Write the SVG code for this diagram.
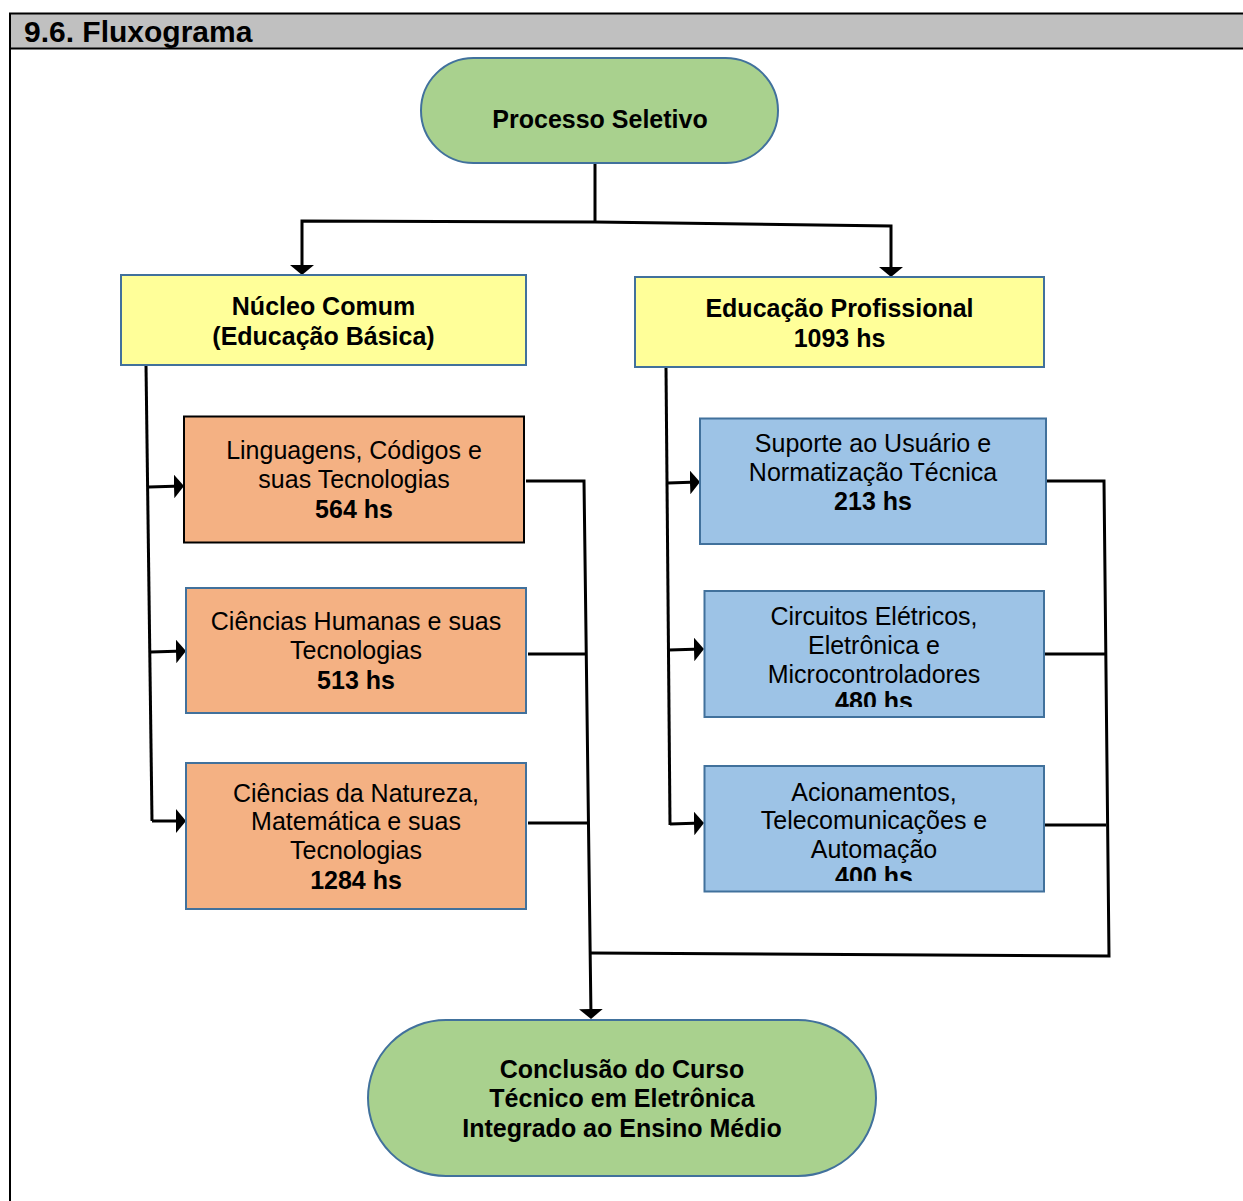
<svg xmlns="http://www.w3.org/2000/svg" width="1243" height="1201" viewBox="0 0 1243 1201">
<style>
.t{font-family:"Liberation Sans",Arial,sans-serif;font-size:25px;fill:#000;text-anchor:middle}
.b{font-weight:bold}
.blue{stroke:#41719C;stroke-width:2}
.green{fill:#A9D18E}
.yellow{fill:#FFFF99}
.orange{fill:#F4B183}
.lblue{fill:#9DC3E6}
.c{fill:none;stroke:#000;stroke-width:3}
</style>
<defs>
<marker id="ah" viewBox="0 0 10 24" refX="8" refY="12" markerWidth="10" markerHeight="24" markerUnits="userSpaceOnUse" orient="auto">
<path d="M0,0 L10,12 L0,24 Z" fill="#000"/>
</marker>
<clipPath id="clipC"><rect x="704" y="591" width="340" height="116"/></clipPath>
<clipPath id="clipA"><rect x="704" y="766" width="340" height="115"/></clipPath>
</defs>
<rect width="1243" height="1201" fill="#fff"/>
<g id="header">
<rect x="10" y="13.5" width="1250" height="35" fill="#C0C0C0" stroke="#000" stroke-width="2"/>
<line x1="10" y1="48" x2="10" y2="1201" stroke="#000" stroke-width="2"/>
<text x="24" y="42" style="font-family:'Liberation Sans',Arial,sans-serif;font-size:30px;font-weight:bold">9.6. Fluxograma</text>
</g>
<g id="connectors">
<path class="c" d="M595,163 L595,222"/>
<path class="c" d="M595,222 L302,221 L302,273" marker-end="url(#ah)"/>
<path class="c" d="M595,222 L891,226 L891,275" marker-end="url(#ah)"/>
<path class="c" d="M146,365 L152,821"/>
<path class="c" d="M149,487 L182,486" marker-end="url(#ah)"/>
<path class="c" d="M151,652 L184,651" marker-end="url(#ah)"/>
<path class="c" d="M152,821 L184,821" marker-end="url(#ah)"/>
<path class="c" d="M666,367 L670,825"/>
<path class="c" d="M668,483 L698,482" marker-end="url(#ah)"/>
<path class="c" d="M669,650 L702,649" marker-end="url(#ah)"/>
<path class="c" d="M670,824 L702,823" marker-end="url(#ah)"/>
<path class="c" d="M526,481 L584,481 L591,1017" marker-end="url(#ah)"/>
<path class="c" d="M528,654 L586,654"/>
<path class="c" d="M528,823 L588,823"/>
<path class="c" d="M1046,481 L1104,481 L1109,956 L591,953"/>
<path class="c" d="M1044,654 L1105,654"/>
<path class="c" d="M1044,825 L1106,825"/>
</g>
<g id="processo">
<rect x="421" y="58" width="357" height="105" rx="52.5" class="green blue"/>
<text class="t b" x="600" y="128">Processo Seletivo</text>
</g>
<g id="nucleo">
<rect x="121" y="275" width="405" height="90" class="yellow blue"/>
<text class="t b" x="323.5" y="315">Núcleo Comum</text>
<text class="t b" x="323.5" y="345">(Educação Básica)</text>
</g>
<g id="educacao">
<rect x="635" y="277" width="409" height="90" class="yellow blue"/>
<text class="t b" x="839.5" y="317">Educação Profissional</text>
<text class="t b" x="839.5" y="347">1093 hs</text>
</g>
<g id="linguagens">
<rect x="184" y="416.5" width="340" height="126" class="orange" stroke="#000" stroke-width="2"/>
<text class="t" x="354" y="459">Linguagens, Códigos e</text>
<text class="t" x="354" y="488">suas Tecnologias</text>
<text class="t b" x="354" y="518">564 hs</text>
</g>
<g id="humanas">
<rect x="186" y="588" width="340" height="125" class="orange blue"/>
<text class="t" x="356" y="630">Ciências Humanas e suas</text>
<text class="t" x="356" y="659">Tecnologias</text>
<text class="t b" x="356" y="689">513 hs</text>
</g>
<g id="natureza">
<rect x="186" y="763" width="340" height="146" class="orange blue"/>
<text class="t" x="356" y="802">Ciências da Natureza,</text>
<text class="t" x="356" y="830">Matemática e suas</text>
<text class="t" x="356" y="859">Tecnologias</text>
<text class="t b" x="356" y="889">1284 hs</text>
</g>
<g id="suporte">
<rect x="700" y="418.5" width="346" height="125.5" class="lblue blue"/>
<text class="t" x="873" y="452">Suporte ao Usuário e</text>
<text class="t" x="873" y="481">Normatização Técnica</text>
<text class="t b" x="873" y="510">213 hs</text>
</g>
<g id="circuitos">
<rect x="704.5" y="591" width="339.5" height="126" class="lblue blue"/>
<text class="t" x="874" y="625">Circuitos Elétricos,</text>
<text class="t" x="874" y="654">Eletrônica e</text>
<text class="t" x="874" y="683">Microcontroladores</text>
<text class="t b" x="874" y="710" clip-path="url(#clipC)">480 hs</text>
</g>
<g id="acionamentos">
<rect x="704.5" y="766" width="339.5" height="125.5" class="lblue blue"/>
<text class="t" x="874" y="801">Acionamentos,</text>
<text class="t" x="874" y="829">Telecomunicações e</text>
<text class="t" x="874" y="858">Automação</text>
<text class="t b" x="874" y="885" clip-path="url(#clipA)">400 hs</text>
</g>
<g id="conclusao">
<rect x="368" y="1020" width="508" height="156" rx="78" class="green blue"/>
<text class="t b" x="622" y="1078">Conclusão do Curso</text>
<text class="t b" x="622" y="1107">Técnico em Eletrônica</text>
<text class="t b" x="622" y="1137">Integrado ao Ensino Médio</text>
</g>
</svg>
